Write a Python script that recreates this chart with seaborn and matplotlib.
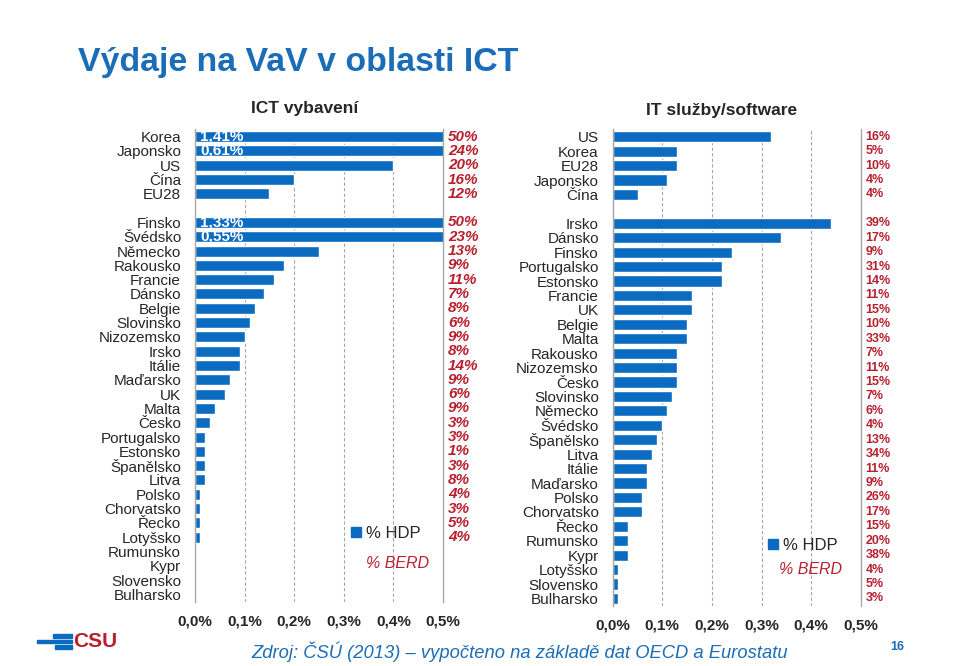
import numpy as np
import pandas as pd
import matplotlib
matplotlib.use("Agg")
import matplotlib.pyplot as plt
import seaborn as sns
from matplotlib.lines import Line2D
from matplotlib.patches import Rectangle

# ---------------- data ----------------
left_countries = ["Korea", "Japonsko", "US", "Čína", "EU28", "",
                  "Finsko", "Švédsko", "Německo", "Rakousko", "Francie", "Dánsko",
                  "Belgie", "Slovinsko", "Nizozemsko", "Irsko", "Itálie", "Maďarsko",
                  "UK", "Malta", "Česko", "Portugalsko", "Estonsko", "Španělsko",
                  "Litva", "Polsko", "Chorvatsko", "Řecko", "Lotyšsko", "Rumunsko",
                  "Kypr", "Slovensko", "Bulharsko"]
left_hdp = [1.41, 0.61, 0.40, 0.20, 0.15, np.nan,
            1.33, 0.55, 0.25, 0.18, 0.16, 0.14,
            0.12, 0.11, 0.10, 0.09, 0.09, 0.07,
            0.06, 0.04, 0.03, 0.02, 0.02, 0.02,
            0.02, 0.01, 0.01, 0.01, 0.01, 0.0,
            0.0, 0.0, 0.0]
left_berd = ["50%", "24%", "20%", "16%", "12%", "",
             "50%", "23%", "13%", "9%", "11%", "7%",
             "8%", "6%", "9%", "8%", "14%", "9%",
             "6%", "9%", "3%", "3%", "1%", "3%",
             "8%", "4%", "3%", "5%", "4%", "",
             "", "", ""]
left_inside = {"Korea": "1,41%", "Japonsko": "0,61%", "Finsko": "1,33%", "Švédsko": "0,55%"}

right_countries = ["US", "Korea", "EU28", "Japonsko", "Čína", "",
                   "Irsko", "Dánsko", "Finsko", "Portugalsko", "Estonsko", "Francie",
                   "UK", "Belgie", "Malta", "Rakousko", "Nizozemsko", "Česko",
                   "Slovinsko", "Německo", "Švédsko", "Španělsko", "Litva", "Itálie",
                   "Maďarsko", "Polsko", "Chorvatsko", "Řecko", "Rumunsko", "Kypr",
                   "Lotyšsko", "Slovensko", "Bulharsko"]
right_hdp = [0.32, 0.13, 0.13, 0.11, 0.05, np.nan,
             0.44, 0.34, 0.24, 0.22, 0.22, 0.16,
             0.16, 0.15, 0.15, 0.13, 0.13, 0.13,
             0.12, 0.11, 0.10, 0.09, 0.08, 0.07,
             0.07, 0.06, 0.06, 0.03, 0.03, 0.03,
             0.01, 0.01, 0.01]
right_berd = ["16%", "5%", "10%", "4%", "4%", "",
              "39%", "17%", "9%", "31%", "14%", "11%",
              "15%", "10%", "33%", "7%", "11%", "15%",
              "7%", "6%", "4%", "13%", "34%", "11%",
              "9%", "26%", "17%", "15%", "20%", "38%",
              "4%", "5%", "3%"]

x_ticks = [0.0, 0.1, 0.2, 0.3, 0.4, 0.5]
x_tick_labels = ["0,0%", "0,1%", "0,2%", "0,3%", "0,4%", "0,5%"]

# ---------------- style ----------------
sns.set_style("white")
plt.rcParams["font.family"] = ["Liberation Sans", "DejaVu Sans"]

BLUE = "#0A6BC0"
RED = "#B8202E"
TITLE_BLUE = "#1B6DB7"
GRAY = "#A6A6A6"

W, H = 960, 666
fig = plt.figure(figsize=(W / 100, H / 100), dpi=100)


def fx(px):
    return px / W


def fy(py):
    return 1 - py / H


def make_panel(rect, countries, hdp, berd, berd_style, inside=None):
    ax = fig.add_axes(rect)
    order = [c if c else " " for c in countries]
    df = pd.DataFrame({"country": order, "hdp": hdp})
    sns.barplot(data=df, x="hdp", y="country", order=order, color=BLUE,
                width=0.77, errorbar=None, orient="h", ax=ax, saturation=1)
    n = len(order)
    ax.set_xlim(0, 0.5)
    ax.set_ylim(n - 0.5, -0.5)
    ax.set_xlabel("")
    ax.set_ylabel("")
    ax.set_xticks(x_ticks)
    ax.set_xticklabels(x_tick_labels, fontsize=11, fontweight="bold")
    ax.tick_params(axis="x", length=0, pad=9)
    ax.set_yticks(range(n))
    ax.set_yticklabels([c for c in countries], fontsize=11)
    ax.tick_params(axis="y", which="major", length=0, pad=10)
    ax.set_yticks(np.arange(n + 1) - 0.5, minor=True)
    ax.tick_params(axis="y", which="minor", length=4, color=GRAY, width=0.8, direction="out")
    for s in ["top", "bottom"]:
        ax.spines[s].set_visible(False)
    for s in ["left", "right"]:
        ax.spines[s].set_color(GRAY)
        ax.spines[s].set_linewidth(1.0)
    for xv in x_ticks[1:-1]:
        ax.axvline(xv, color=GRAY, lw=0.8, ls=(0, (3, 2)), zorder=0)
    trans = matplotlib.transforms.blended_transform_factory(ax.transAxes, ax.transData)
    for i, lab in enumerate(berd):
        if lab:
            ax.text(1.0 + berd_style["dx"], i, lab, transform=trans, ha="left", va="center",
                    color=RED, fontsize=berd_style["size"], fontweight="bold",
                    fontstyle=berd_style["style"])
    if inside:
        for i, c in enumerate(countries):
            if c in inside:
                ax.text(0.01, i, inside[c], ha="left", va="center", color="white",
                        fontsize=11, fontweight="bold")
    return ax


ax1 = make_panel([fx(195), fy(601.5), fx(248), (601.5 - 129.5) / H],
                 left_countries, left_hdp, left_berd,
                 {"dx": 0.02, "size": 11, "style": "italic"}, left_inside)
ax2 = make_panel([fx(612.7), fy(605.7), fx(248), (605.7 - 129.5) / H],
                 right_countries, right_hdp, right_berd,
                 {"dx": 0.02, "size": 9, "style": "normal"})

# legends
for ax, (sq_x, sq_y, berd_x, berd_y) in [(ax1, (355, 533, 366, 563)),
                                         (ax2, (771.7, 545.7, 779, 570))]:
    handle = Line2D([], [], marker="s", color=BLUE, linestyle="none", markersize=7)
    leg = fig.legend(handles=[handle], labels=["% HDP"], loc="center left",
                     bbox_to_anchor=(fx(sq_x - 12), fy(sq_y)), frameon=False,
                     fontsize=12, handlelength=0.6, handletextpad=0.3, borderpad=0)
    fig.text(fx(berd_x), fy(berd_y), "% BERD", color=RED, fontsize=11.5,
             fontstyle="italic", ha="left", va="center")

# titles
fig.text(fx(78), fy(62), "Výdaje na VaV v oblasti ICT", color=TITLE_BLUE,
         fontsize=24.4, fontweight="bold", ha="left", va="center")
fig.text(fx(305), fy(109), "ICT vybavení", fontsize=12.5, fontweight="bold",
         ha="center", va="center")
fig.text(fx(722), fy(111), "IT služby/software", fontsize=12.5, fontweight="bold",
         ha="center", va="center")

# footer
fig.text(fx(520), fy(652), "Zdroj: ČSÚ (2013) – vypočteno na základě dat OECD a Eurostatu",
         color=TITLE_BLUE, fontsize=13.2, fontstyle="italic", ha="center", va="center",
         family=["Liberation Sans Narrow", "Liberation Sans", "DejaVu Sans"])
fig.text(fx(897), fy(647), "16", color=TITLE_BLUE, fontsize=9, fontweight="bold",
         ha="center", va="center")

# logo
for (x0, x1, y0, y1) in [(53, 72, 634, 637.5), (37, 72, 639.5, 643), (55, 72, 645, 648.5)]:
    fig.patches.append(Rectangle((fx(x0), fy(y1)), fx(x1 - x0), (y1 - y0) / H,
                                 transform=fig.transFigure, color=BLUE, zorder=5))
fig.text(fx(73), fy(641.5), "CSU", color=RED, fontsize=15, fontweight="bold",
         ha="left", va="center")

fig.savefig("out.png", dpi=100)
